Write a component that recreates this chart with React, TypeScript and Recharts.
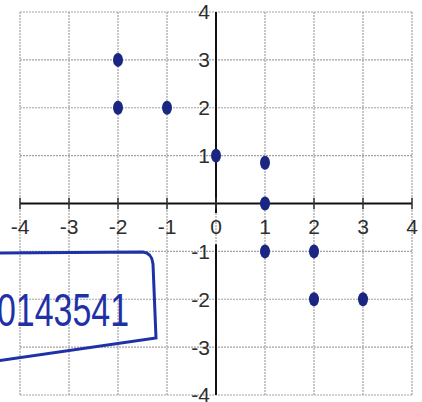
import { CartesianGrid, ReferenceDot, ReferenceLine, Scatter, ScatterChart, XAxis, YAxis } from "recharts";

const xTicks = [-4, -3, -2, -1, 0, 1, 2, 3, 4];
const yTicks = [-4, -3, -2, -1, 1, 2, 3, 4];
const xLabels = [-4, -3, -2, -1, 0, 1, 2, 3, 4];
const yLabels = [4, 3, 2, 1, -1, -2, -3, -4];

const pointX = [-2, -2, -1, 0, 1, 1, 1, 2, 2, 3];
const pointY = [3, 2, 2, 1, 0.85, 0, -1, -1, -2, -2];

const points = pointX.map((x, i) => ({ x, y: pointY[i] }));

const ink = "#1b2683";
const labelColor = "#2e2e2e";

function Blob(props: any) {
  const { cx, cy } = props;
  return <ellipse cx={cx} cy={cy} rx={5} ry={7} fill={ink} />;
}

export default function App() {
  return (
    <div style={{ position: "fixed", left: 0, top: 0, width: 422, height: 402, background: "#fff", fontFamily: "Liberation Sans, sans-serif" }}>
      <ScatterChart width={422} height={402} margin={{ top: 12, right: 10, bottom: 7, left: 20 }}>
        <XAxis type="number" dataKey="x" domain={[-4, 4]} ticks={xTicks} hide />
        <YAxis type="number" dataKey="y" domain={[-4, 4]} ticks={yTicks} hide />
        <CartesianGrid stroke="#a3a3a3" strokeDasharray="2 1" strokeWidth={1.2} />
        <ReferenceLine y={0} stroke="#111" strokeWidth={2} />
        <ReferenceLine segment={[{ x: 0, y: 4 }, { x: 0, y: -0.2 }]} stroke="#111" strokeWidth={2} />
        <ReferenceLine segment={[{ x: 0, y: -0.85 }, { x: 0, y: -4 }]} stroke="#111" strokeWidth={2} />
        {xTicks.map((t) => (
          <ReferenceLine key={"tk" + t} segment={[{ x: t, y: 0.12 }, { x: t, y: -0.12 }]} stroke="#333" strokeWidth={1.5} />
        ))}
        {xLabels.map((t) => (
          <ReferenceDot
            key={"xl" + t}
            x={t}
            y={0}
            r={0}
            fill="none"
            stroke="none"
            label={{ value: String(t), position: "bottom", offset: 16, fill: labelColor, fontSize: 21 }}
          />
        ))}
        {yLabels.map((t) => (
          <ReferenceDot
            key={"yl" + t}
            x={0}
            y={t}
            r={0}
            fill="none"
            stroke="none"
            label={{ value: String(t), position: "left", offset: 6, fill: labelColor, fontSize: 21 }}
          />
        ))}
        <Scatter data={points} shape={<Blob />} isAnimationActive={false} />
      </ScatterChart>
      <svg width={422} height={402} style={{ position: "absolute", left: 0, top: 0, pointerEvents: "none" }}>
        <path d="M -10 253 L 143 252 Q 152 253 153 264 L 156 338 L -10 362" fill="none" stroke="#1f31a6" strokeWidth={3} />
        <text
          x={-3}
          y={326}
          fill="#1f31a6"
          fontSize={46}
          fontFamily="Liberation Sans, sans-serif"
          textLength={132}
          lengthAdjust="spacingAndGlyphs"
        >
          0143541
        </text>
      </svg>
    </div>
  );
}
